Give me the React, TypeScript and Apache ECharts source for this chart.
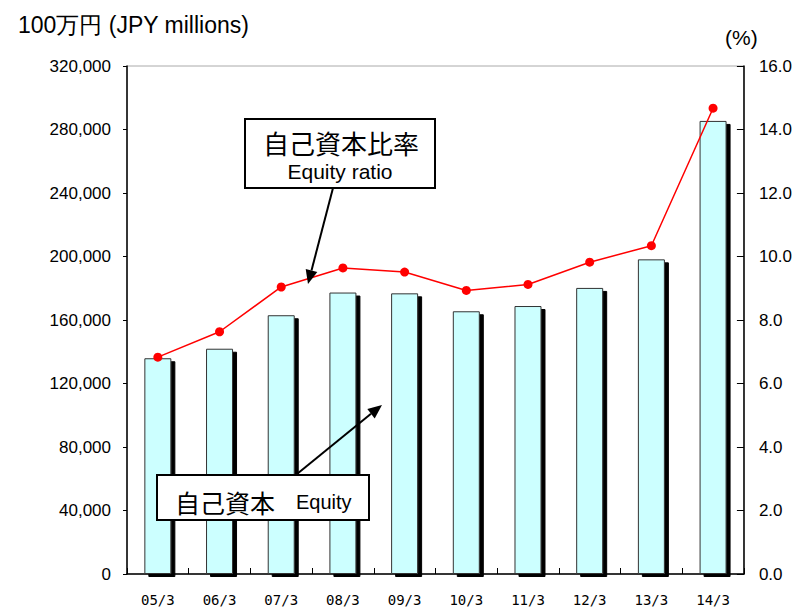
import React, { useEffect, useRef } from "react";
import * as echarts from "echarts";

const categories = ["05/3", "06/3", "07/3", "08/3", "09/3", "10/3", "11/3", "12/3", "13/3", "14/3"];
const equity = [135900, 141900, 163000, 177300, 176800, 165500, 168800, 180200, 198200, 285400];
const equityRatio = [6.83, 7.63, 9.04, 9.64, 9.51, 8.93, 9.12, 9.82, 10.34, 14.67];
const leftTicks = { min: 0, max: 320000, interval: 40000 };
const rightTicks = { min: 0, max: 16, interval: 2 };

const JP = "'Noto Sans CJK JP', sans-serif";
const LAT = "'Liberation Sans', Arial, sans-serif";

export default function App() {
  const ref = useRef<HTMLDivElement>(null);
  useEffect(() => {
    if (!ref.current) return;
    const chart = echarts.init(ref.current, null, { renderer: "svg" });
    chart.setOption({
      animation: false,
      backgroundColor: "#ffffff",
      grid: { left: 127, right: 50, top: 66, bottom: 35, show: true, borderColor: "#aaaaaa", borderWidth: 1 },
      xAxis: {
        type: "category",
        data: categories,
        boundaryGap: true,
        axisLine: { lineStyle: { color: "#000", width: 1.5 } },
        axisTick: { show: true, inside: true, length: 6, interval: 0, lineStyle: { color: "#000" } },
        axisLabel: { color: "#000", fontFamily: "'DejaVu Sans Mono', monospace", fontSize: 14, margin: 19, interval: 0 },
      },
      yAxis: [
        {
          type: "value",
          ...leftTicks,
          position: "left",
          splitLine: { show: false },
          axisLine: { show: true, lineStyle: { color: "#000", width: 1.5 } },
          axisTick: { show: true, inside: false, length: 4, lineStyle: { color: "#000" } },
          axisLabel: {
            color: "#000",
            fontFamily: LAT,
            fontSize: 17,
            margin: 16,
            formatter: (v: number) => v.toLocaleString("en-US"),
          },
        },
        {
          type: "value",
          ...rightTicks,
          position: "right",
          splitLine: { show: false },
          axisLine: { show: true, lineStyle: { color: "#000", width: 1.5 } },
          axisTick: { show: true, inside: true, length: 7, lineStyle: { color: "#000" } },
          axisLabel: {
            color: "#000",
            fontFamily: LAT,
            fontSize: 17,
            margin: 15,
            formatter: (v: number) => v.toFixed(1),
          },
        },
      ],
      series: [
        {
          type: "bar",
          name: "自己資本",
          data: equity,
          yAxisIndex: 0,
          barWidth: 27,
          itemStyle: {
            color: "#ccffff",
            borderColor: "#333333",
            borderWidth: 1,
            shadowColor: "#000000",
            shadowOffsetX: 4,
            shadowOffsetY: 3,
            shadowBlur: 0,
          },
        },
        {
          type: "line",
          name: "自己資本比率",
          data: equityRatio,
          yAxisIndex: 1,
          symbol: "circle",
          symbolSize: 9,
          lineStyle: { color: "#ff0000", width: 1.5 },
          itemStyle: { color: "#ff0000" },
          z: 5,
        },
      ],
      graphic: [
        { type: "text", x: 18, y: 25, style: { text: "100万円 (JPY millions)", font: `23px ${LAT}`, fill: "#000", verticalAlign: "middle" } },
        { type: "text", x: 725, y: 37, style: { text: "(%)", font: `21px ${LAT}`, fill: "#000", verticalAlign: "middle" } },
        // Equity ratio box
        { type: "rect", shape: { x: 245, y: 119, width: 190, height: 69 }, style: { fill: "#fff", stroke: "#000", lineWidth: 2 }, z: 10 },
        { type: "text", x: 341, y: 142, style: { text: "自己資本比率", font: `26px ${JP}`, fill: "#000", align: "center", verticalAlign: "middle" }, z: 11 },
        { type: "text", x: 340, y: 171, style: { text: "Equity ratio", font: `21px ${LAT}`, fill: "#000", align: "center", verticalAlign: "middle" }, z: 11 },
        { type: "line", shape: { x1: 333, y1: 188, x2: 311.5, y2: 270.4 }, style: { stroke: "#000", lineWidth: 2 }, z: 10 },
        { type: "polygon", shape: { points: [[308, 284], [317.3, 271.9], [305.7, 268.9]] }, style: { fill: "#000" }, z: 10 },
        // Equity box
        { type: "line", shape: { x1: 297, y1: 474, x2: 371, y2: 413.7 }, style: { stroke: "#000", lineWidth: 2 }, z: 10 },
        { type: "polygon", shape: { points: [[382, 405], [374.7, 418.4], [367.3, 409]] }, style: { fill: "#000" }, z: 10 },
        { type: "rect", shape: { x: 157, y: 475, width: 212, height: 45 }, style: { fill: "#fff", stroke: "#000", lineWidth: 2 }, z: 10 },
        { type: "text", x: 175, y: 502, style: { text: "自己資本", font: `25px ${JP}`, fill: "#000", align: "left", verticalAlign: "middle" }, z: 11 },
        { type: "text", x: 296, y: 502, style: { text: "Equity", font: `20px ${LAT}`, fill: "#000", align: "left", verticalAlign: "middle" }, z: 11 },
      ],
    });
    return () => chart.dispose();
  }, []);
  return <div ref={ref} style={{ position: "fixed", left: 0, top: 0, width: 795, height: 609 }} />;
}
